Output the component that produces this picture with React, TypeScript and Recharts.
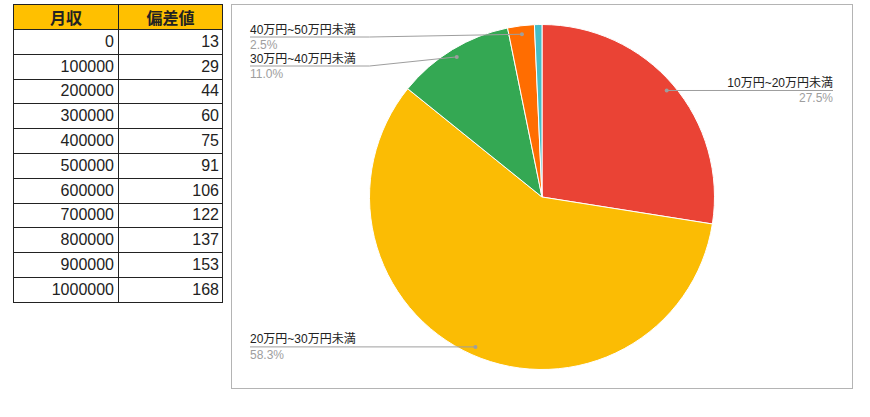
import React from 'react'
import { PieChart, Pie, Cell } from 'recharts'

// 月収 → 偏差値 table
const incomes = [0, 100000, 200000, 300000, 400000, 500000, 600000, 700000, 800000, 900000, 1000000]
const scores = [13, 29, 44, 60, 75, 91, 106, 122, 137, 153, 168]

// pie slices (percent of respondents)
const bands = ['10万円~20万円未満', '20万円~30万円未満', '30万円~40万円未満', '40万円~50万円未満', '50万円以上']
const shares = [27.5, 58.3, 11.0, 2.5, 0.7]
const colors = ['#ea4335', '#fbbc04', '#34a853', '#ff6d01', '#46bdc6']

const FONT = "'Liberation Sans', Arial, 'Noto Sans CJK JP', sans-serif"

const CHART_W = 620
const CHART_H = 383
const CX = 310
const CY = 192
const R = 172.5
const DOT_R = 164
const LEFT_X = 18
const RIGHT_X = 601
const MIN_TOP = 32
const GAP = 29

const pieData = bands.map((name, i) => ({ name, value: shares[i] }))

// work out where each leader line sits so labels on one side don't collide
function layoutLabels() {
  const total = shares.reduce((a, b) => a + b, 0)
  let acc = 0
  const items = shares.map((v, i) => {
    const mid = 90 - ((acc + v / 2) / total) * 360
    acc += v
    const rad = (mid * Math.PI) / 180
    return {
      i,
      show: v / total >= 0.01,
      right: Math.cos(rad) >= 0,
      dotY: CY - Math.sin(rad) * DOT_R,
      lineY: 0,
    }
  })
  const result: Record<number, number> = {}
  for (const side of [true, false]) {
    const list = items.filter((it) => it.show && it.right === side).sort((a, b) => a.dotY - b.dotY)
    let prev = -Infinity
    for (const it of list) {
      it.lineY = Math.max(it.dotY, prev + GAP, MIN_TOP)
      prev = it.lineY
      result[it.i] = it.lineY
    }
  }
  return result
}

const lineYs = layoutLabels()

const renderLabel = (props: any) => {
  const { cx, cy, midAngle, index, value, name } = props
  if (lineYs[index] === undefined) return null
  const rad = (-midAngle * Math.PI) / 180
  const dx = cx + Math.cos(rad) * DOT_R
  const dy = cy + Math.sin(rad) * DOT_R
  const ly = lineYs[index]
  const right = Math.cos(rad) >= 0
  const endX = right ? RIGHT_X : LEFT_X
  const bendX = right ? cx + R : cx - R
  const pts =
    Math.abs(ly - dy) < 0.5
      ? `${dx},${dy} ${endX},${ly}`
      : `${dx},${dy} ${bendX},${ly} ${endX},${ly}`
  const anchor = right ? 'end' : 'start'
  return (
    <g key={`lbl-${index}`}>
      <polyline points={pts} fill="none" stroke="#9e9e9e" strokeWidth={1} />
      <circle cx={dx} cy={dy} r={2} fill="#9e9e9e" />
      <text x={endX} y={ly - 3.5} textAnchor={anchor} fontSize={12} fill="#222" fontFamily={FONT}>
        {name}
      </text>
      <text x={endX} y={ly + 12} textAnchor={anchor} fontSize={12} fill="#9e9e9e" fontFamily={FONT}>
        {`${Number(value).toFixed(1)}%`}
      </text>
    </g>
  )
}

const cell: React.CSSProperties = {
  border: '1px solid #222',
  padding: '0 3px 0 0',
  textAlign: 'right',
  fontSize: 16,
  color: '#222',
  height: 24.8,
  boxSizing: 'border-box',
}

const headCell: React.CSSProperties = {
  ...cell,
  textAlign: 'center',
  fontWeight: 'bold',
  background: '#ffc000',
  padding: 0,
  height: 25,
}

export default function App() {
  return (
    <div style={{ position: 'absolute', left: 0, top: 0, width: 870, height: 417, background: '#fff', fontFamily: FONT }}>
      <table
        style={{
          position: 'absolute',
          left: 13,
          top: 4,
          width: 209,
          borderCollapse: 'collapse',
          tableLayout: 'fixed',
          fontFamily: FONT,
        }}
      >
        <colgroup>
          <col style={{ width: 105 }} />
          <col style={{ width: 104 }} />
        </colgroup>
        <thead>
          <tr>
            <th style={headCell}>月収</th>
            <th style={headCell}>偏差値</th>
          </tr>
        </thead>
        <tbody>
          {incomes.map((inc, i) => (
            <tr key={inc}>
              <td style={{ ...cell, paddingRight: 4 }}>{inc}</td>
              <td style={cell}>{scores[i]}</td>
            </tr>
          ))}
        </tbody>
      </table>

      <div
        style={{
          position: 'absolute',
          left: 231,
          top: 4,
          width: CHART_W,
          height: CHART_H,
          border: '1px solid #b4b4b4',
        }}
      >
        <PieChart width={CHART_W} height={CHART_H} margin={{ top: 0, right: 0, bottom: 0, left: 0 }}>
          <Pie
            data={pieData}
            dataKey="value"
            nameKey="name"
            cx={CX}
            cy={CY}
            innerRadius={0}
            outerRadius={R}
            startAngle={90}
            endAngle={-270}
            stroke="#fff"
            strokeWidth={1}
            label={renderLabel}
            labelLine={false}
            isAnimationActive={false}
          >
            {pieData.map((d, i) => (
              <Cell key={d.name} fill={colors[i]} />
            ))}
          </Pie>
        </PieChart>
      </div>
    </div>
  )
}
